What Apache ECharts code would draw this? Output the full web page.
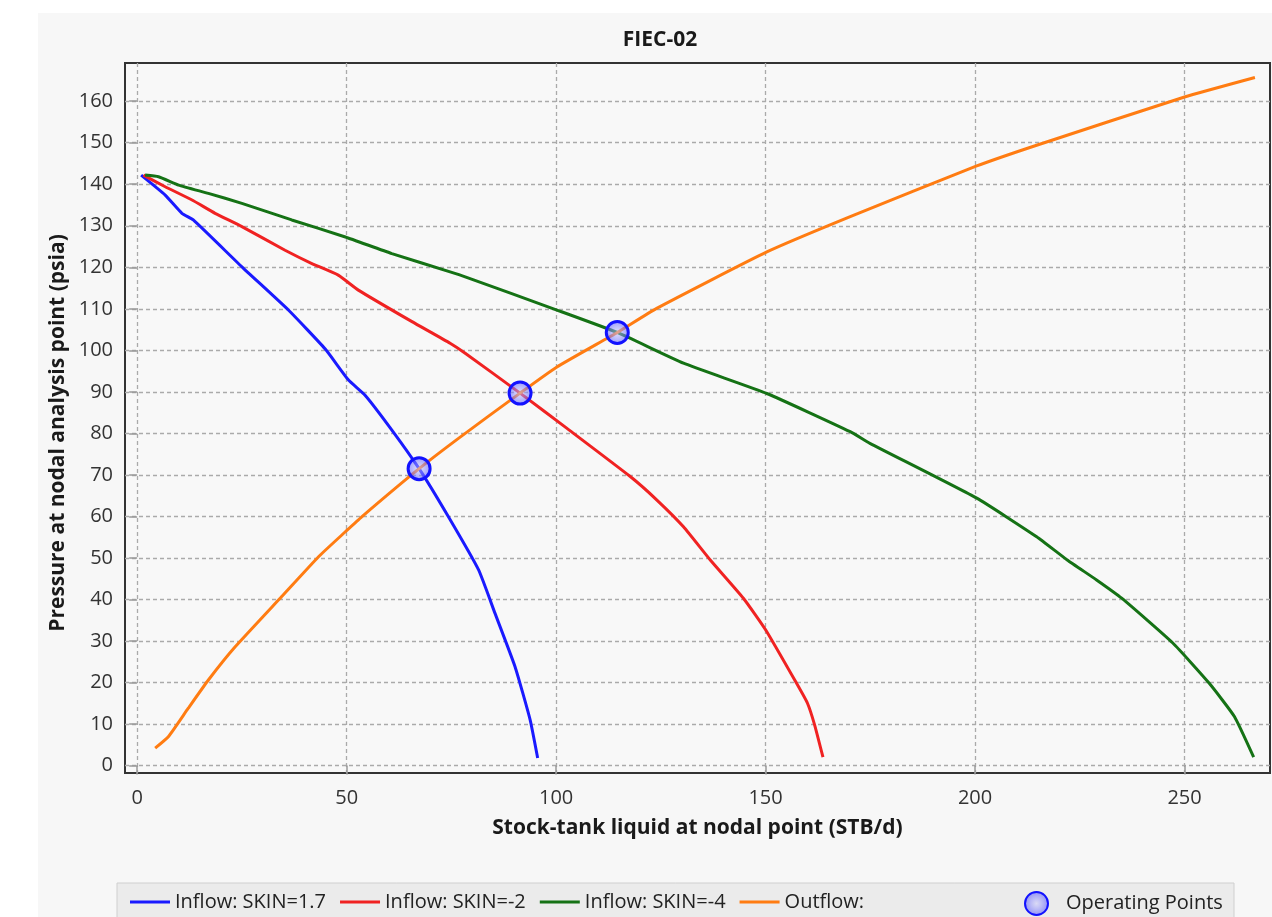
<!DOCTYPE html>
<html>
<head>
<meta charset="utf-8">
<title>FIEC-02</title>
<script src="https://cdn.jsdelivr.net/npm/echarts@6/dist/echarts.min.js"></script>
<style>
  html, body { margin: 0; padding: 0; background: #fff; }
  #main { width: 1272px; height: 917px; }
</style>
</head>
<body>
<div id="main"></div>
<script>
// Inflow: SKIN=1.7
const blueX = [0.95, 6.7, 10.7, 13.4, 25.0, 36.1, 44.9, 50.4, 54.4, 60.8, 67.3, 74.3, 81.5, 85.4, 90.2, 93.8, 95.6]
const blueY = [142.2, 137.4, 133.0, 131.4, 120.1, 109.7, 100.3, 92.9, 89.2, 80.8, 71.5, 59.9, 47.1, 36.7, 23.8, 11.0, 1.8]

// Inflow: SKIN=-2
const redX = [1.5, 6.7, 13.1, 18.6, 25.0, 35.3, 41.7, 48.0, 52.8, 65.6, 74.7, 78.3, 91.4, 102.6, 117.7, 124.0, 130.4, 136.8, 144.7, 150.0, 157.4, 160.0, 161.7, 163.7]
const redY = [142.2, 139.4, 136.2, 133.0, 129.8, 124.1, 120.9, 118.1, 114.5, 106.9, 101.7, 99.3, 89.7, 81.2, 69.6, 64.0, 57.5, 49.5, 40.3, 32.7, 19.8, 15.0, 9.8, 2.0]

// Inflow: SKIN=-4
const greenX = [1.9, 5.1, 9.9, 17.0, 25.0, 36.9, 49.7, 60.8, 74.7, 78.3, 100.2, 114.6, 130.4, 150.3, 170.2, 174.9, 200.4, 214.7, 222.0, 229.0, 235.0, 247.2, 255.9, 261.9, 266.5]
const greenY = [142.2, 141.8, 139.8, 137.8, 135.4, 131.4, 127.3, 123.3, 118.9, 117.7, 109.7, 104.3, 96.9, 89.6, 80.4, 77.6, 64.4, 55.1, 49.5, 44.7, 40.3, 29.5, 19.8, 11.8, 2.0]

// Outflow
const orangeX = [4.3, 7.5, 12.2, 17.0, 23.4, 34.5, 43.3, 49.7, 53.6, 67.3, 76.7, 91.4, 100.2, 114.6, 124.0, 150.3, 170.2, 200.4, 214.7, 250.0, 266.8]
const orangeY = [4.2, 7.0, 13.8, 20.6, 28.6, 40.7, 50.3, 56.3, 59.9, 71.5, 78.8, 89.7, 96.0, 104.3, 110.1, 123.7, 132.2, 144.4, 149.4, 161.0, 165.7]

// Operating points
const opX = [67.3, 91.4, 114.6]
const opY = [71.5, 89.7, 104.3]

const xTicks = [0, 50, 100, 150, 200, 250]
const yTicks = [0, 10, 20, 30, 40, 50, 60, 70, 80, 90, 100, 110, 120, 130, 140, 150, 160]

const seriesNames = ['Inflow: SKIN=1.7', 'Inflow: SKIN=-2', 'Inflow: SKIN=-4', 'Outflow:']
const opName = 'Operating Points'

const font = 'Open Sans'

const zip = (xs, ys) => xs.map((x, i) => [x, ys[i]])

const lineSeries = function (name, xs, ys, color) {
  return {
    name: name,
    type: 'line',
    data: zip(xs, ys),
    showSymbol: false,
    symbol: 'none',
    smooth: 0.15,
    itemStyle: { color: color },
    lineStyle: { color: color, width: 3 },
  }
}

const chart = echarts.init(document.getElementById('main'))
chart.setOption({
  animation: false,
  backgroundColor: '#ffffff',
  textStyle: { fontFamily: font },

  title: {
    text: 'FIEC-02',
    left: 655,
    top: 25,
    textAlign: 'center',
    textStyle: { fontFamily: font, fontSize: 21, fontWeight: 'bold', color: '#1a1a1a' },
  },

  graphic: [
    // panel background
    { type: 'rect', z: -100, silent: true, shape: { x: 38, y: 13, width: 1234, height: 904 }, style: { fill: '#f7f7f7' } },
    // legend box
    { type: 'rect', z: 1, silent: true, shape: { x: 117, y: 883, width: 1117, height: 40 },
      style: { fill: '#ebebeb', stroke: '#cfcfcf', lineWidth: 1 } },
    // y axis name
    { type: 'text', x: 58, y: 433, rotation: Math.PI / 2, silent: true,
      style: { text: 'Pressure at nodal analysis point (psia)', align: 'center', verticalAlign: 'middle',
        fontFamily: font, fontSize: 21, fontWeight: 'bold', fill: '#1a1a1a' } },
  ],

  legend: [
    {
      data: seriesNames,
      left: 125,
      top: 887,
      icon: 'rect',
      itemWidth: 40,
      itemHeight: 3,
      itemGap: 14,
      textStyle: { fontFamily: font, fontSize: 20, color: '#222' },
    },
    {
      data: [opName],
      left: 1019,
      top: 886,
      itemWidth: 23,
      itemHeight: 23,
      textStyle: { fontFamily: font, fontSize: 20, color: '#222', padding: [0, 0, 0, 13] },
    },
  ],

  grid: {
    left: 125,
    top: 63,
    right: 2,
    bottom: 144,
    show: true,
    backgroundColor: '#f8f8f8',
    borderColor: '#333',
    borderWidth: 2,
  },

  xAxis: {
    type: 'value',
    min: -2.9,
    max: 270.4,
    name: 'Stock-tank liquid at nodal point (STB/d)',
    nameLocation: 'middle',
    nameGap: 45,
    nameTextStyle: { fontFamily: font, fontSize: 21, fontWeight: 'bold', color: '#1a1a1a' },
    axisLine: { show: false },
    axisTick: { show: true, customValues: xTicks, length: 9, lineStyle: { color: '#999', width: 1.5 } },
    axisLabel: { customValues: xTicks, margin: 15, fontSize: 20, color: '#333' },
    splitLine: { show: true, lineStyle: { color: '#aaa', type: [4, 3], width: 1.3 } },
  },

  yAxis: {
    type: 'value',
    min: -1.8,
    max: 169.2,
    axisLine: { show: false },
    axisTick: { show: true, customValues: yTicks, length: 8, lineStyle: { color: '#999', width: 1.5 } },
    axisLabel: { customValues: yTicks, margin: 12, fontSize: 20, color: '#333' },
    splitLine: { show: true, lineStyle: { color: '#aaa', type: [4, 3], width: 1.3 } },
  },

  series: [
    lineSeries(seriesNames[0], blueX, blueY, '#1a1aff'),
    lineSeries(seriesNames[1], redX, redY, '#f02222'),
    lineSeries(seriesNames[2], greenX, greenY, '#157215'),
    lineSeries(seriesNames[3], orangeX, orangeY, '#ff7c12'),
    {
      name: opName,
      type: 'scatter',
      data: zip(opX, opY),
      symbolSize: 22,
      z: 5,
      itemStyle: {
        color: {
          type: 'radial', x: 0.5, y: 0.5, r: 0.5,
          colorStops: [
            { offset: 0, color: 'rgba(200,200,255,0.5)' },
            { offset: 1, color: 'rgba(80,80,255,0.6)' },
          ],
        },
        borderColor: '#1212ff',
        borderWidth: 3,
        opacity: 1,
      },
    },
  ],
})
</script>
</body>
</html>
